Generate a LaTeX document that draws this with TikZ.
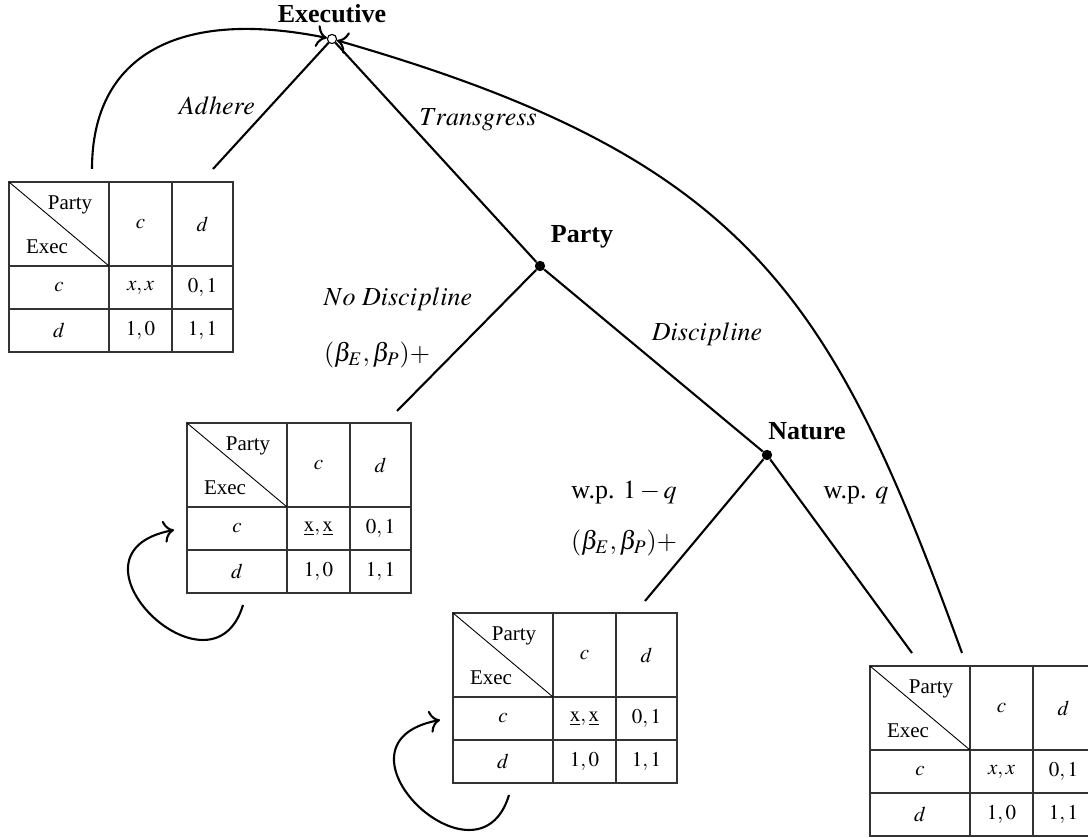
\documentclass[tikz,border=0pt]{standalone}
\usepackage{mathptmx}
\usepackage{fontspec}
\setmainfont{Liberation Serif}
\usetikzlibrary{calc,arrows.meta}
\tikzset{
  x=0.5pt, y=-0.5pt,
  branch/.style={line width=1.05pt},
  arr/.style={line width=1.05pt, -{To[scale=1.35]}},
  tabframe/.style={draw=black!80, line width=0.6pt, minimum width=112pt, minimum height=85pt, inner sep=0pt},
  tabline/.style={draw=black!80, line width=0.6pt},
  diagline/.style={draw=black, line width=0.45pt},
  tabtxt/.style={font=\fontsize{10.5}{12}\selectfont, inner sep=0pt},
  lbl/.style={font=\fontsize{13}{15}\selectfont, inner sep=0pt},
  player/.style={font=\fontsize{13}{15}\selectfont\bfseries, inner sep=0pt},
  opennode/.style={circle, draw, line width=0.55pt, fill=white, inner sep=0pt, minimum size=4.6pt},
  dotnode/.style={circle, fill, inner sep=0pt, minimum size=5.2pt}
}
\newcommand\PayTab[4]{%
\begin{scope}[shift={(#2,#3)}]
  \node[tabframe] (#1) at (112,85) {};
  \draw[tabline] (100,0) -- (100,170) (163,0) -- (163,170) (0,84) -- (224,84) (0,127) -- (224,127);
  \draw[diagline] (0,0) -- (100,84);
  \node[tabtxt] (#1-party) at (61,23) {Party};
  \node[tabtxt] (#1-exec) at (38,65) {Exec};
  \node[tabtxt] (#1-hc) at (131.5,42) {$c$};
  \node[tabtxt] (#1-hd) at (193.5,42) {$d$};
  \node[tabtxt] (#1-rc) at (50,105.5) {$c$};
  \node[tabtxt] (#1-rd) at (50,148.5) {$d$};
  \node[tabtxt] (#1-cc) at (131.5,105.5) {#4};
  \node[tabtxt] (#1-cd) at (193.5,105.5) {$0,1$};
  \node[tabtxt] (#1-dc) at (131.5,148.5) {$1,0$};
  \node[tabtxt] (#1-dd) at (193.5,148.5) {$1,1$};
  \coordinate (#1-ls) at (56,182);
  \coordinate (#1-c1) at (25,285);
  \coordinate (#1-c2) at (-135,130);
  \coordinate (#1-le) at (-13,107);
\end{scope}}
\begin{document}
\begin{tikzpicture}
\useasboundingbox (0,0) rectangle (1088,838);

% tables
\PayTab{T1}{9}{182}{$x,x$}
\PayTab{T2}{187}{423}{$\underline{\mathrm{x}},\underline{\mathrm{x}}$}
\PayTab{T3}{453}{613}{$\underline{\mathrm{x}},\underline{\mathrm{x}}$}
\PayTab{T4}{870}{666}{$x,x$}

% decision nodes
\node[opennode] (E) at (332,39) {};
\node[dotnode] (P) at (540,266) {};
\node[dotnode] (N) at (767,455) {};
\node[player] (Elbl) at (332,14) {Executive};
\node[player] (Plbl) at (582,237) {Party};
\node[player] (Nlbl) at (807,431) {Nature};

% branch end points
\coordinate (adh) at (213,169);
\coordinate (nod) at (397,411);
\coordinate (wp1) at (645,601);
\coordinate (wpq) at (912,653);
\coordinate (loopA) at (92,169);
\coordinate (loopB) at (962,653);

% branches
\draw[branch] (E) -- (adh);
\draw[branch] (E) -- (P);
\draw[branch] (P) -- (nod);
\draw[branch] (P) -- (N);
\draw[branch] (N) -- (wp1);
\draw[branch] (N) -- (wpq);

% labels
\node[lbl] (l1) at (217,106) {$Adhere$};
\node[lbl] (l2) at (478,120) {$Transgress$};
\node[lbl] (l3) at (398,299) {$No\ Discipline$};
\node[lbl] (l4) at (377,355) {$(\beta_E,\beta_P){+}$};
\node[lbl] (l5) at (707,334) {$Discipline$};
\node[lbl] (l6) at (624,493) {w.p. $1-q$};
\node[lbl] (l7) at (624,543) {$(\beta_E,\beta_P){+}$};
\node[lbl] (l8) at (856,495) {w.p. $q$};

% return arcs
\draw[arr] (loopA) .. controls (92,55) and (179,8) .. (E);
\draw[arr] (loopB) .. controls (832,296) and (750,159) .. (E);
\draw[arr] (T2-ls) .. controls (T2-c1) and (T2-c2) .. (T2-le);
\draw[arr] (T3-ls) .. controls (T3-c1) and (T3-c2) .. (T3-le);
\end{tikzpicture}
\end{document}
